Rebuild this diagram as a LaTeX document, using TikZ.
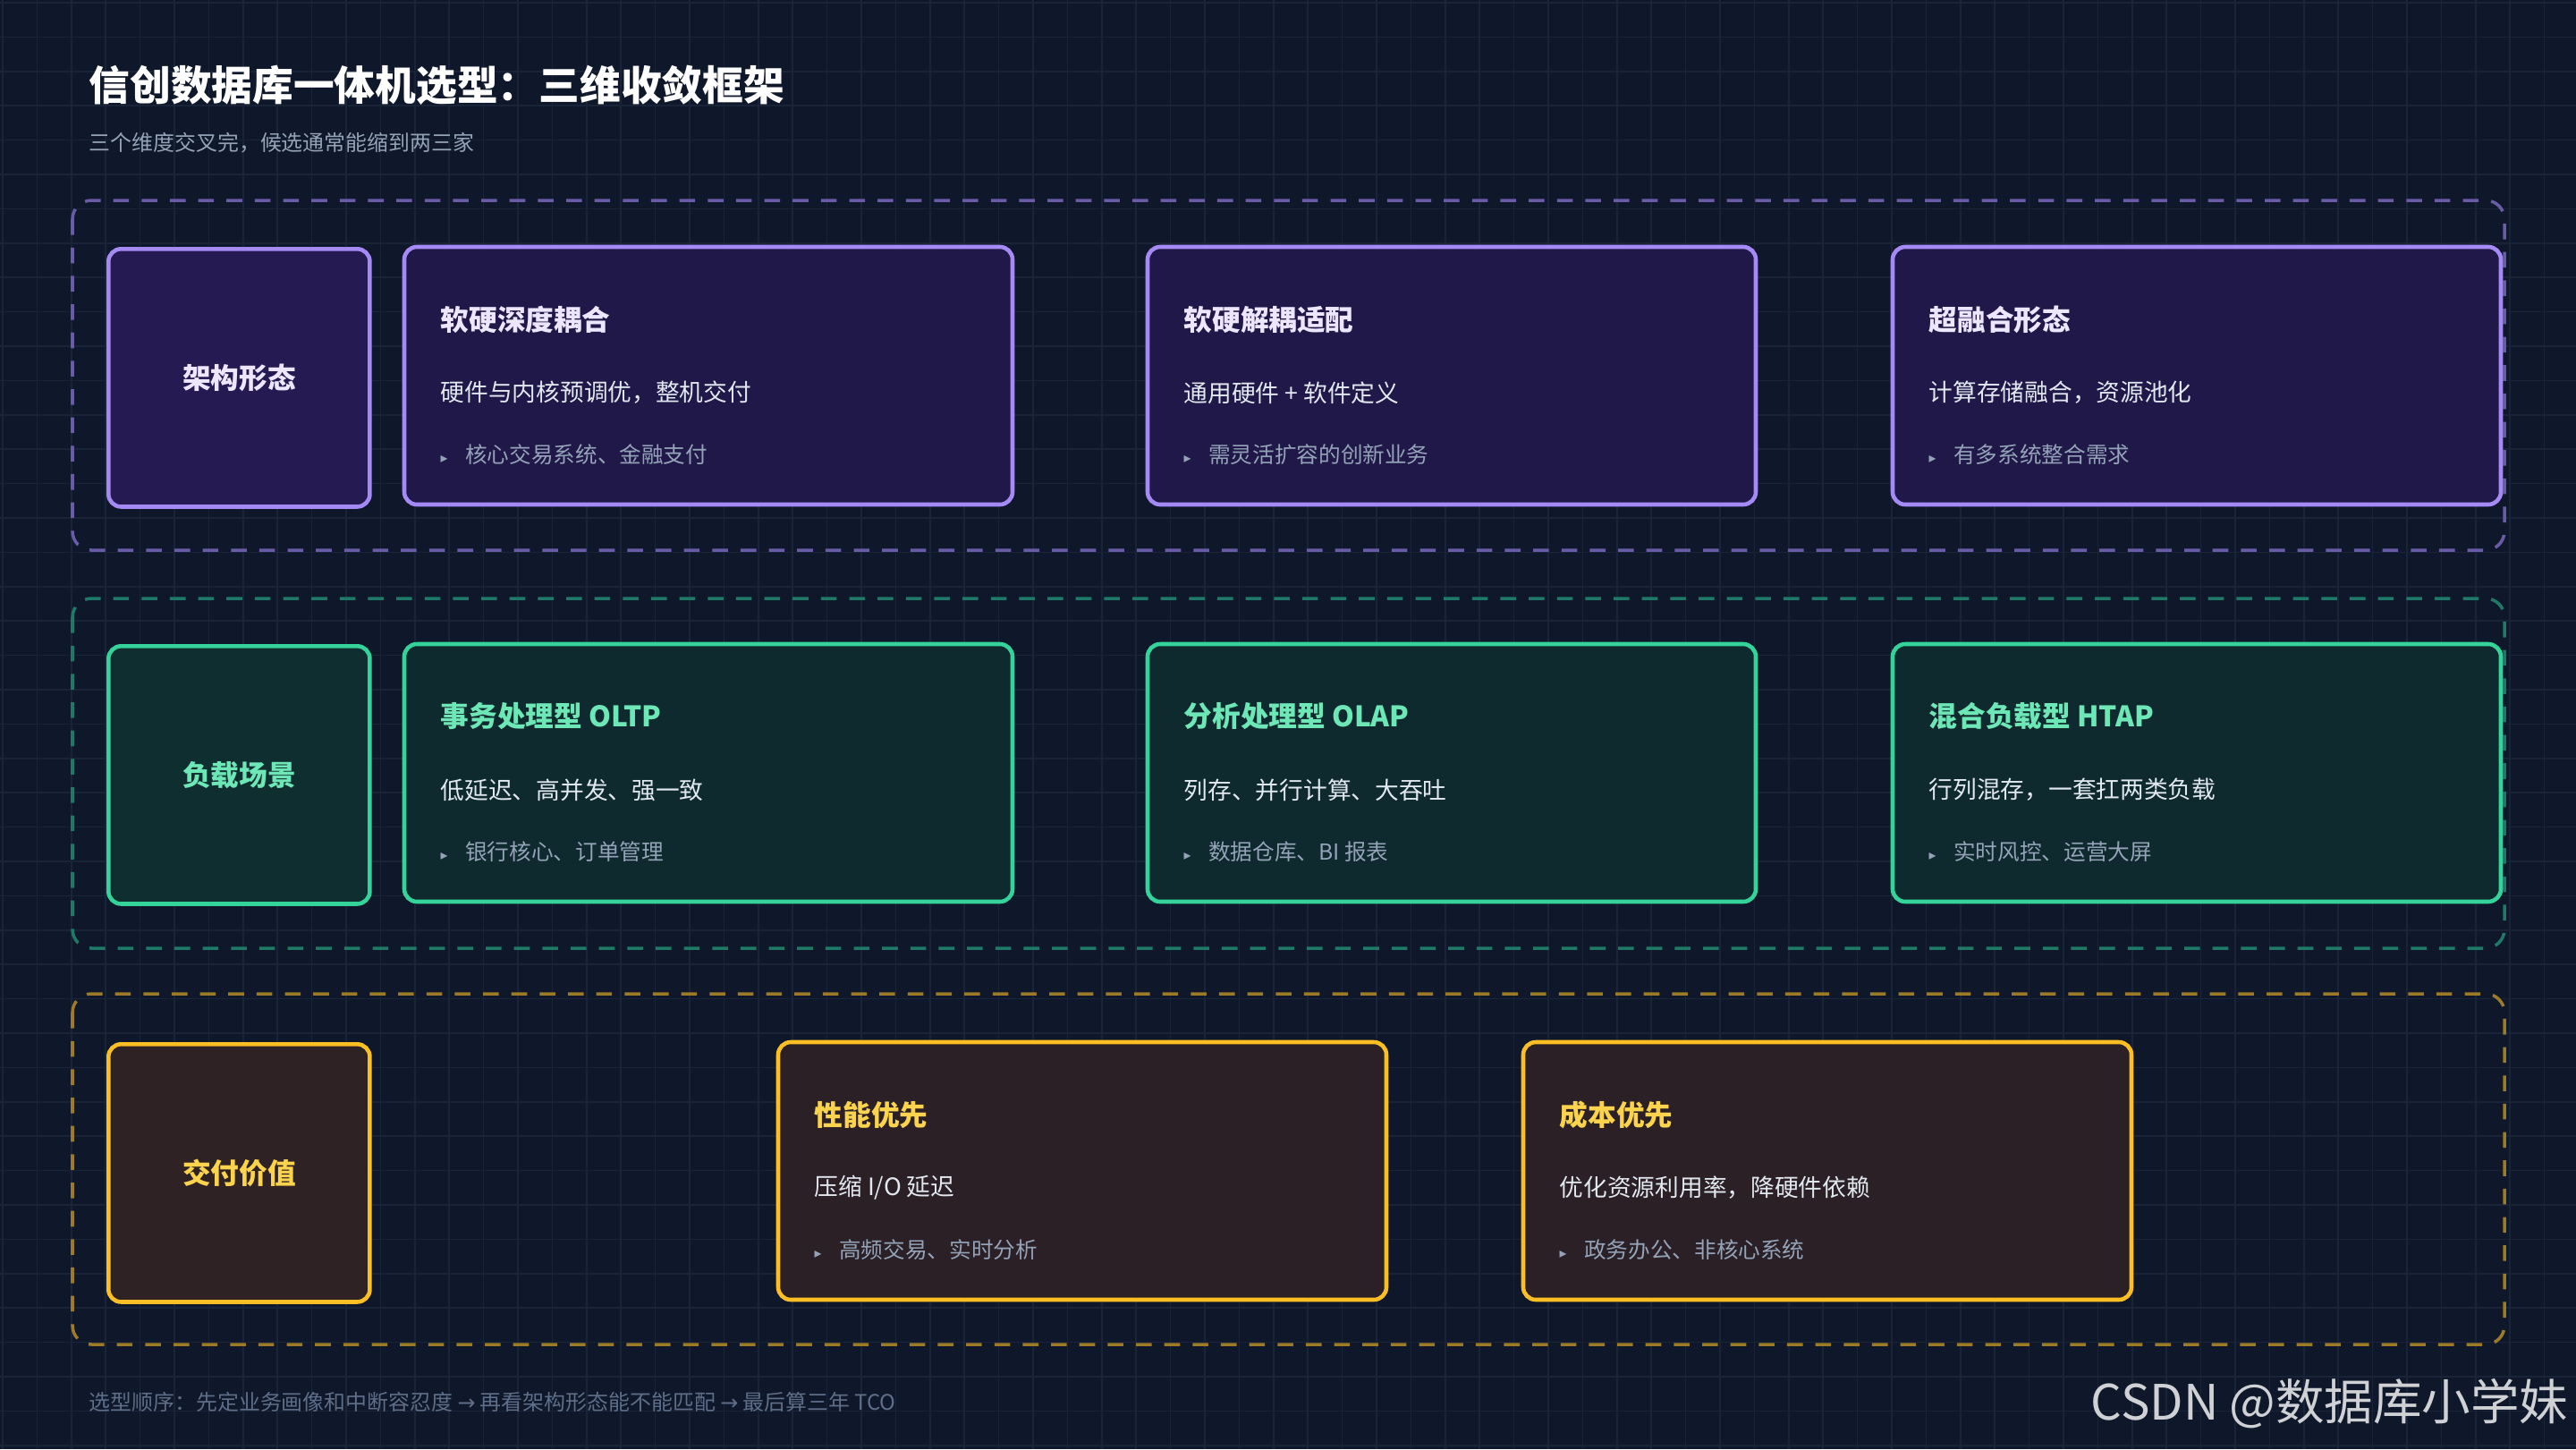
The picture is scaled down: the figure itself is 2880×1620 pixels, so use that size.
\documentclass[tikz,border=0pt]{standalone}
\usepackage{fontspec}
\setmainfont{Noto Sans CJK SC}
\newfontfamily\dv{DejaVu Sans}
\definecolor{bg}{HTML}{0F172A}
\definecolor{gridc}{HTML}{1A2438}
\definecolor{pB}{HTML}{A58AF5}\definecolor{pF}{HTML}{251A52}\definecolor{pC}{HTML}{1F1848}\definecolor{pT}{HTML}{EDE6FF}\definecolor{pD}{HTML}{6A5BA8}
\definecolor{gB}{HTML}{34D399}\definecolor{gF}{HTML}{0F2E30}\definecolor{gC}{HTML}{0F2A2E}\definecolor{gT}{HTML}{6EE7B7}\definecolor{gD}{HTML}{1E7A66}
\definecolor{yB}{HTML}{FBBF24}\definecolor{yF}{HTML}{2E2224}\definecolor{yC}{HTML}{2A2026}\definecolor{yT}{HTML}{FCD34D}\definecolor{yD}{HTML}{9C7A26}
\definecolor{descc}{HTML}{E2E8F0}\definecolor{bulc}{HTML}{94A3B8}\definecolor{footc}{HTML}{5E6E88}
\newcommand{\mycard}[8]{% name, x, y, theme, title, desc, bullet, width
  \draw[#4card] (#2,#3) rectangle ++(#8,288);
  \node[ttl,text=#4T] (#1t) at (#2+40,#3+81) {#5};
  \node[dsc] (#1d) at (#2+40,#3+163) {#6};
  \node[bul] (#1b) at (#2+40,#3+232) {{\dv\fontsize{4.5}{5}\selectfont ▸}\hspace{0.8em}#7};
}
\begin{document}
\begin{tikzpicture}[x=0.01cm,y=-0.01cm,
  ttl/.style={anchor=west,inner sep=0,font=\bfseries\fontsize{9}{10}\selectfont},
  dsc/.style={anchor=west,inner sep=0,text=descc,font=\fontsize{7.6}{9}\selectfont},
  bul/.style={anchor=west,inner sep=0,text=bulc,font=\fontsize{7}{8}\selectfont},
  pcard/.style={draw=pB,fill=pC,line width=1.3pt,rounded corners=4pt},
  gcard/.style={draw=gB,fill=gC,line width=1.3pt,rounded corners=4pt},
  ycard/.style={draw=yB,fill=yC,line width=1.3pt,rounded corners=4pt},
  band/.style={dashed,dash pattern=on 5pt off 4pt,line width=1pt,rounded corners=6pt},
  lbl/.style={line width=1.3pt,rounded corners=4pt,minimum width=2.92cm,minimum height=2.88cm,anchor=north west,font=\bfseries\fontsize{9}{10}\selectfont}]
\fill[bg] (0,0) rectangle (2880,1620);
\useasboundingbox (0,0) rectangle (2880,1620);
\foreach \i in {0,...,75} \draw[gridc,line width=0.5pt] (\i*38.4+3,0) -- (\i*38.4+3,1620);
\foreach \j in {0,...,42} \draw[gridc,line width=0.5pt] (0,\j*38.4+3) -- (2880,\j*38.4+3);
\node[anchor=west,inner sep=0,text=white,font=\bfseries\fontsize{13}{15}\selectfont] (title) at (99,95) {信创数据库一体机选型：三维收敛框架};
\node[anchor=west,inner sep=0,text=bulc,font=\fontsize{6.8}{8}\selectfont] (sub) at (99,160) {三个维度交叉完，候选通常能缩到两三家};
% bands
\draw[band,draw=pD] (81,224) rectangle (2800,615);
\draw[band,draw=gD] (81,669) rectangle (2800,1060);
\draw[band,draw=yD] (81,1111) rectangle (2800,1503);
% labels
\node[lbl,draw=pB,fill=pF,text=pT] (L1) at (119,276) {架构形态};
\node[lbl,draw=gB,fill=gF,text=gT] (L2) at (119,720) {负载场景};
\node[lbl,draw=yB,fill=yF,text=yT] (L3) at (119,1165) {交付价值};
% row 1
\mycard{a1}{452}{276}{p}{软硬深度耦合}{硬件与内核预调优，整机交付}{核心交易系统、金融支付}{680}
\mycard{a2}{1283}{276}{p}{软硬解耦适配}{通用硬件 + 软件定义}{需灵活扩容的创新业务}{680}
\mycard{a3}{2116}{276}{p}{超融合形态}{计算存储融合，资源池化}{有多系统整合需求}{680}
% row 2
\mycard{b1}{452}{720}{g}{事务处理型 OLTP}{低延迟、高并发、强一致}{银行核心、订单管理}{680}
\mycard{b2}{1283}{720}{g}{分析处理型 OLAP}{列存、并行计算、大吞吐}{数据仓库、BI 报表}{680}
\mycard{b3}{2116}{720}{g}{混合负载型 HTAP}{行列混存，一套扛两类负载}{实时风控、运营大屏}{680}
% row 3
\mycard{c1}{870}{1165}{y}{性能优先}{压缩 I/O 延迟}{高频交易、实时分析}{680}
\mycard{c2}{1703}{1165}{y}{成本优先}{优化资源利用率，降硬件依赖}{政务办公、非核心系统}{680}
\node[anchor=west,inner sep=0,text=footc,font=\fontsize{6.8}{8}\selectfont] (foot) at (99,1567) {选型顺序：先定业务画像和中断容忍度 {\dv→} 再看架构形态能不能匹配 {\dv→} 最后算三年 TCO};
\node[anchor=east,inner sep=0,text=white!80!bg,font=\fontsize{15.5}{17}\selectfont] (wm) at (2872,1569) {CSDN @数据库小学妹};
\end{tikzpicture}
\end{document}
